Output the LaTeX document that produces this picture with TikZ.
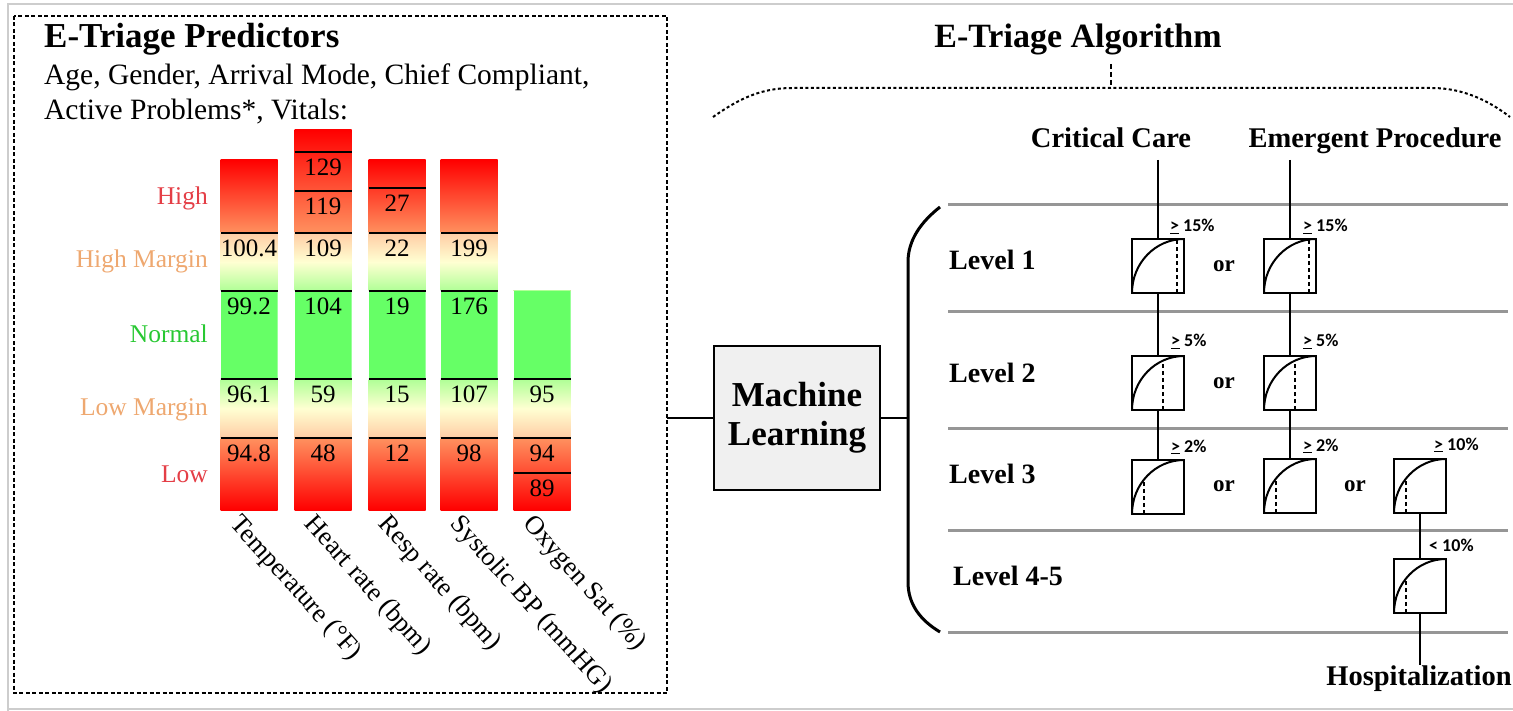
\documentclass[tikz,border=0pt]{standalone}
\usepackage{fontspec}
\setmainfont{Liberation Serif}
\newfontfamily\calibri{Carlito}
\usetikzlibrary{calc}

\definecolor{hired}{RGB}{228,62,70}
\definecolor{margo}{RGB}{238,168,112}
\definecolor{normg}{RGB}{40,200,50}
\definecolor{barred}{RGB}{255,0,0}
\definecolor{barsalmon}{RGB}{255,145,95}
\definecolor{barpeach}{RGB}{255,205,165}
\definecolor{barcream}{RGB}{255,255,210}
\definecolor{barlime}{RGB}{175,255,150}
\definecolor{bargreen}{RGB}{102,255,102}
\definecolor{rulegray}{RGB}{150,150,150}
\definecolor{mlgray}{RGB}{240,240,240}
\definecolor{edgegray}{RGB}{205,205,205}
\newcommand{\fs}[1]{\fontsize{#1}{#1}\selectfont}

\begin{document}
\begin{tikzpicture}[x=1pt,y=-1pt,
    frame/.style={line width=2pt,dash pattern=on 4pt off 2.5pt},
    brace/.style={line width=2pt,dash pattern=on 3pt off 2.5pt},
    stub/.style={line width=1.6pt,dash pattern=on 5pt off 3pt},
    barline/.style={line width=2.5pt},
    val/.style={font=\fs{25},inner sep=0pt},
    rowlab/.style={font=\fs{25.5},anchor=base east,inner sep=0pt},
    vital/.style={font=\fs{26.5},rotate=-48,anchor=north west,inner sep=0pt},
    head/.style={font=\fs{28.5}\bfseries,anchor=base,inner sep=0pt},
    lvl/.style={font=\fs{28}\bfseries,anchor=base west,inner sep=0pt},
    rowline/.style={rulegray,line width=3pt},
    link/.style={line width=2pt},
    curvebox/.style={draw,fill=white,line width=2.5pt,minimum width=52pt,
      minimum height=54pt,inner sep=0pt,outer sep=0pt},
    pct/.style={font=\calibri\bfseries\fs{18},anchor=base west,inner sep=0pt},
    orlab/.style={font=\fs{23}\bfseries,inner sep=0pt}]
  \useasboundingbox (0,0) rectangle (1513,711);
  % outer frame of the figure
  \draw[edgegray,line width=2.5pt] (8,711) -- (8,4) -- (1520,4);
  \draw[edgegray,line width=2.5pt] (8,709) -- (1520,709);

  % ---------- predictors panel ----------
  \draw[frame] (14,16) rectangle (667,693);
  \coordinate (predout) at (667,418);
  \node[anchor=base west,inner sep=0pt,font=\fs{35}\bfseries] (ptitle) at (44,48) {E-Triage Predictors};
  \node[anchor=base west,inner sep=0pt,font=\fs{29.5}] (pline1) at (44,85) {Age, Gender, Arrival Mode, Chief Compliant,};
  \node[anchor=base west,inner sep=0pt,font=\fs{29.5}] (pline2) at (44,120) {Active Problems*, Vitals:};

  % range labels
  \node[rowlab,text=hired] (rhigh) at (208,205) {High};
  \node[rowlab,text=margo] (rhm) at (208,268) {High Margin};
  \node[rowlab,text=normg] (rnorm) at (208,343) {Normal};
  \node[rowlab,text=margo] (rlm) at (208,415) {Low Margin};
  \node[rowlab,text=hired] (rlow) at (208,482) {Low};

  % vital sign bars
  \foreach \cx/\tp/\marks in {
      249/160/{233/100.4,291/99.2,379/96.1,438/94.8},
      323/130/{152/129,191/119,233/109,291/104,379/59,438/48},
      397/160/{188/27,233/22,291/19,379/15,438/12},
      469/160/{233/199,291/176,379/107,438/98},
      542/291/{379/95,438/94,473/89}}{
    \begin{scope}
      \clip (\cx-28.5,\tp) rectangle (\cx+28.5,510);
      \shade[top color=barred,bottom color=barsalmon] (\cx-28.5,\tp) rectangle (\cx+28.5,233);
      \shade[top color=barpeach,bottom color=barlime,middle color=barcream] (\cx-28.5,233) rectangle (\cx+28.5,291);
      \fill[bargreen] (\cx-28.5,291) rectangle (\cx+28.5,379);
      \shade[top color=barlime,bottom color=barpeach,middle color=barcream] (\cx-28.5,379) rectangle (\cx+28.5,438);
      \shade[top color=barsalmon,bottom color=barred] (\cx-28.5,438) rectangle (\cx+28.5,510);
    \end{scope}
    \foreach \y/\v in \marks {
      \draw[barline] (\cx-28.5,\y) -- (\cx+28.5,\y);
      \node[val] (v-\cx-\y) at (\cx,\y+15) {\v};
    }
  }
  \foreach \cx/\lab in {249/Temperature (°F),323/Heart rate (bpm),397/Resp rate (bpm),
      469/Systolic BP (mmHG),542/Oxygen Sat (\%)}
    \node[vital] (lab-\cx) at (\cx-6,512) {\lab};

  % ---------- algorithm panel ----------
  \node[font=\fs{34}\bfseries,anchor=base,inner sep=0pt] (atitle) at (1078,48) {E-Triage Algorithm};
  \coordinate (stubtop) at (1111,64);
  \coordinate (bracetop) at (1111,88);
  \draw[stub] (stubtop) -- (bracetop);
  \draw[brace] (713,117) .. controls (740,98) and (762,88) .. (792,88) -- (1432,88)
    .. controls (1462,88) and (1488,100) .. (1510,117);

  \node[draw,line width=2.5pt,fill=mlgray,minimum width=166pt,minimum height=144pt,
    align=center,font=\fs{35}\bfseries] (ml) at (797,418) {Machine\\[4pt]Learning};
  \coordinate (bracketmid) at (908,418);
  \draw[line width=2.5pt] (predout) -- (ml);
  \draw[line width=2.5pt] (ml) -- (bracketmid);
  \draw[line width=3pt] (940,207) .. controls (921,222) and (908,240) .. (908,262)
    -- (908,582) .. controls (908,604) and (920,620) .. (940,632);

  % level rows
  \foreach \y in {205,312,428,530,632}
    \draw[rowline] (948,\y) -- (1508,\y);
  \node[lvl] (l1) at (949,270) {Level 1};
  \node[lvl] (l2) at (949,382) {Level 2};
  \node[lvl] (l3) at (949,483) {Level 3};
  \node[lvl] (l45) at (953,585) {Level 4-5};

  \node[head] (cc) at (1111,148) {Critical Care};
  \node[head] (ep) at (1375,148) {Emergent Procedure};
  \coordinate (cctop) at (1158,160);
  \coordinate (eptop) at (1290,160);

  % score boxes
  \node[curvebox] (b11) at (1158,266) {};
  \node[curvebox] (b12) at (1290,266) {};
  \node[curvebox] (b21) at (1158,383) {};
  \node[curvebox] (b22) at (1290,383) {};
  \node[curvebox] (b31) at (1158,487) {};
  \node[curvebox] (b32) at (1290,486) {};
  \node[curvebox] (b33) at (1420,486) {};
  \node[curvebox] (b45) at (1420,586) {};
  \node[anchor=north,inner sep=1pt,font=\fs{28.5}\bfseries] (hosp) at (1419,665) {Hospitalization};

  \draw[link] (cctop) -- (b11);
  \draw[link] (b11) -- (b21);
  \draw[link] (b21) -- (b31);
  \draw[link] (eptop) -- (b12);
  \draw[link] (b12) -- (b22);
  \draw[link] (b22) -- (b32);
  \draw[link] (b33) -- (b45);
  \draw[link] (b45) -- (b45 |- hosp.north);

  \foreach \b/\f/\h in {b11/45/54,b12/45/54,b21/31/49,b22/31/49,b31/12/34,b32/12/34,b33/12/34,b45/12/34}{
    \draw[line width=2pt] (\b.south west) arc[start angle=180,end angle=90,x radius=52pt,y radius=54pt];
    \draw[line width=1.8pt,dash pattern=on 4pt off 3pt] ([xshift=\f pt]\b.south west) -- ++(0,-\h);
  }

  \node[pct] (p11) at ([xshift=12pt,yshift=7pt]b11.north) {\underline{>} 15\%};
  \node[pct] (p12) at ([xshift=13pt,yshift=7pt]b12.north) {\underline{>} 15\%};
  \node[pct] (p21) at ([xshift=13pt,yshift=9pt]b21.north) {\underline{>} 5\%};
  \node[pct] (p22) at ([xshift=13pt,yshift=9pt]b22.north) {\underline{>} 5\%};
  \node[pct] (p31) at ([xshift=13pt,yshift=8pt]b31.north) {\underline{>} 2\%};
  \node[pct] (p32) at ([xshift=13pt,yshift=8pt]b32.north) {\underline{>} 2\%};
  \node[pct] (p33) at ([xshift=14pt,yshift=9pt]b33.north) {\underline{>} 10\%};
  \node[pct] (p45) at ([xshift=9pt,yshift=8pt]b45.north) {< 10\%};

  \node[orlab] (or1) at ($(b11)!0.5!(b12)$) {or};
  \node[orlab] (or2) at ($(b21)!0.5!(b22)$) {or};
  \node[orlab] (or3) at ($(b31)!0.5!(b32)$) {or};
  \node[orlab] (or4) at ($(b32)!0.5!(b33)$) {or};
\end{tikzpicture}
\end{document}
